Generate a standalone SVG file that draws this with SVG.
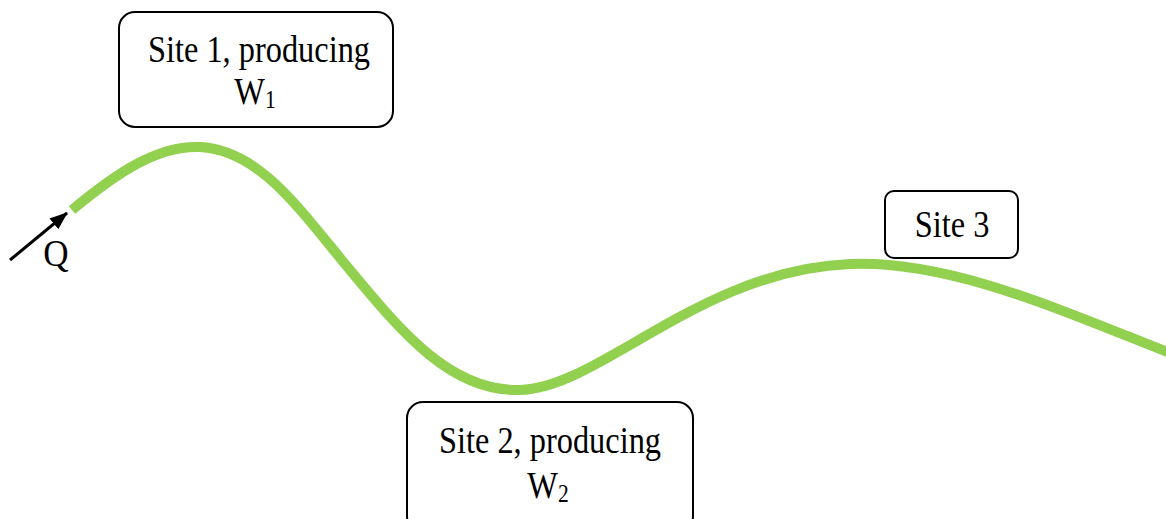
<svg xmlns="http://www.w3.org/2000/svg" width="1166" height="519" viewBox="0 0 1166 519">
<defs>
<style>
.box{fill:#fff;stroke:#000;stroke-width:2}
.t{font-family:"Liberation Serif","Times New Roman",serif;font-size:39px;fill:#000;text-anchor:middle}
.s{font-size:26px}
</style>
<marker id="ah" markerWidth="18" markerHeight="14" refX="17" refY="7" orient="auto" markerUnits="userSpaceOnUse" viewBox="0 0 18 14">
<path d="M0,0 L18,7 L0,14 z" fill="#000"/>
</marker>
</defs>
<rect width="1166" height="519" fill="#fff"/>
<g id="connectors">
<path id="river" d="M72,210 C120,170 160,145 200,147 C260,150 300,210 350,270 C400,330 450,392 520,390 C600,388 700,270 850,264 C950,260 1060,310 1170,353" fill="none" stroke="#92D050" stroke-width="10"/>
<line x1="10" y1="260" x2="67" y2="213" stroke="#000" stroke-width="3" marker-end="url(#ah)"/>
</g>
<g id="q"><text class="t" transform="translate(56,266) scale(0.9,1)" font-size="34">Q</text></g>
<g id="site1">
<rect class="box" x="119" y="12" width="274" height="115" rx="16"/>
<text class="t" transform="translate(259,62) scale(0.83,1)">Site 1, producing</text>
<text class="t" transform="translate(255,104) scale(0.83,1)">W<tspan class="s" dy="4">1</tspan></text>
</g>
<g id="site2">
<rect class="box" x="407" y="402" width="286" height="130" rx="16"/>
<text class="t" transform="translate(550,453) scale(0.83,1)">Site 2, producing</text>
<text class="t" transform="translate(548,498) scale(0.83,1)">W<tspan class="s" dy="4">2</tspan></text>
</g>
<g id="site3">
<rect class="box" x="885" y="191" width="133" height="67" rx="9"/>
<text class="t" transform="translate(952,237) scale(0.83,1)">Site 3</text>
</g>
</svg>
